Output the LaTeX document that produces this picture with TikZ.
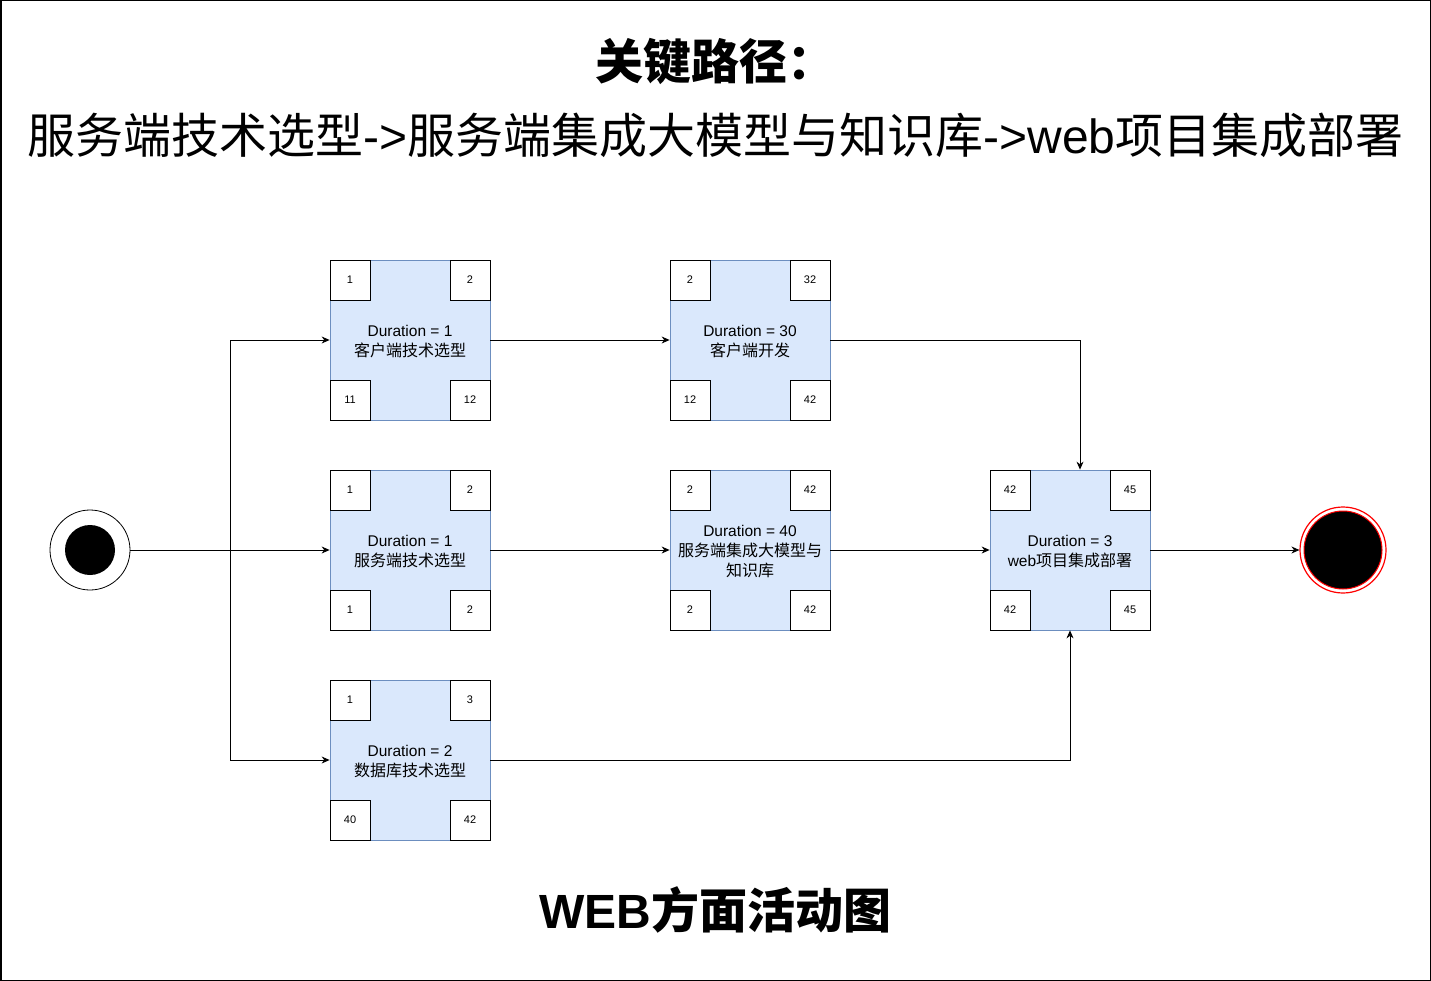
\documentclass[tikz,border=0pt]{standalone}
\usepackage{fontspec}
\setmainfont{Liberation Sans}
\newfontfamily\cjk{Noto Sans CJK SC}
\usetikzlibrary{arrows.meta,calc}
\definecolor{boxfill}{HTML}{DAE8FC}
\definecolor{boxdraw}{HTML}{6C8EBF}
\begin{document}
\begin{tikzpicture}[x=1pt,y=-1pt,
  actbody/.style={rectangle,minimum width=160pt,minimum height=160pt,fill=boxfill,draw=boxdraw,line width=0.8pt,inner sep=0pt},
  corner/.style={rectangle,minimum width=40pt,minimum height=40pt,fill=white,draw=black,line width=0.8pt,inner sep=0pt,font=\fontsize{11}{13}\selectfont},
  acttext/.style={align=center,font=\fontsize{15.5}{20}\selectfont,inner sep=0pt},
  arr/.style={draw=black,line width=0.8pt,-{Stealth[length=8pt,width=7pt]}},
  ttl/.style={font=\fontsize{48}{56}\selectfont,inner sep=0pt}]
\useasboundingbox (0,0) rectangle (1431,981);
\draw[line width=1.5pt] (0.75,0.75) rectangle (1430.25,980.25);

\newcommand\actbox[8]{%
  \node[actbody] (#1) at (#2,#3) {};
  \node[corner,anchor=north west] (#1tl) at (#1.north west) {#4};
  \node[corner,anchor=north east] (#1tr) at (#1.north east) {#5};
  \node[corner,anchor=south west] (#1bl) at (#1.south west) {#6};
  \node[corner,anchor=south east] (#1br) at (#1.south east) {#7};
  \node[acttext] (#1t) at (#2,#3+1.5) {#8};
}
\newcommand\zh[1]{{\cjk\fontsize{16}{20}\selectfont #1}}

% titles
\node[ttl] (t1) at (715.5,62) {\cjk\bfseries 关键路径：};
\node[ttl] (t2) at (715.5,135) {{\cjk 服务端技术选型}->{\cjk 服务端集成大模型与知识库}->web{\cjk 项目集成部署}};
\node[ttl] (t3) at (715.5,910) {\bfseries WEB{\cjk 方面活动图}};

% boxes
\actbox{b11}{410}{340}{1}{2}{11}{12}{Duration = 1\\\zh{客户端技术选型}}
\actbox{b12}{750}{340}{2}{32}{12}{42}{Duration = 30\\\zh{客户端开发}}
\actbox{b21}{410}{550}{1}{2}{1}{2}{Duration = 1\\\zh{服务端技术选型}}
\actbox{b22}{750}{550}{2}{42}{2}{42}{Duration = 40\\\zh{服务端集成大模型与}\\\zh{知识库}}
\actbox{b23}{1070}{550}{42}{45}{42}{45}{Duration = 3\\web\zh{项目集成部署}}
\actbox{b31}{410}{760}{1}{3}{40}{42}{Duration = 2\\\zh{数据库技术选型}}

% start / end
\node[circle,draw=black,line width=0.8pt,fill=white,minimum size=80pt,inner sep=0pt] (start) at (90,550) {};
\node[circle,fill=black,minimum size=50pt,inner sep=0pt] (startin) at (90,550) {};
\node[circle,draw=red,line width=1.2pt,fill=white,minimum size=86pt,inner sep=0pt] (end) at (1343,550) {};
\node[circle,draw=red,line width=1pt,fill=black,minimum size=78pt,inner sep=0pt] (endin) at (1343,550) {};

% connectors
\coordinate (j) at (230,550);
\draw[arr] (start.east) -- (b21.west);
\draw[arr] (j) |- (b11.west);
\draw[arr] (j) |- (b31.west);
\draw[arr] (b11.east) -- (b12.west);
\draw[arr] (b21.east) -- (b22.west);
\draw[arr] (b22.east) -- (b23.west);
\draw[arr] (b23.east) -- (end.west);
\draw[arr] (b12.east) -| ([xshift=10pt]b23.north);
\draw[arr] (b31.east) -| (b23.south);
\end{tikzpicture}
\end{document}
